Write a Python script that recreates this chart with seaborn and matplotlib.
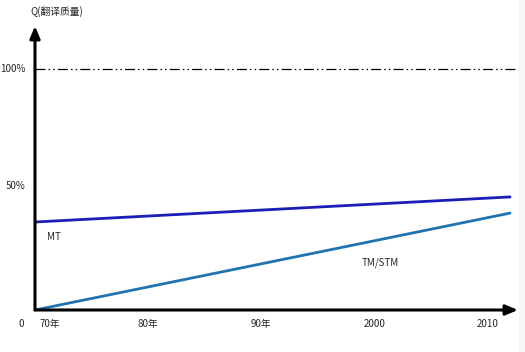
import matplotlib
matplotlib.use("Agg")
import matplotlib.pyplot as plt
import seaborn as sns
import pandas as pd

# data
years = [1970, 2012]
mt_quality = [36.5, 46.9]
tm_quality = [0.0, 40.2]
tick_years = [1971.3, 1980, 1990, 2000, 2010]
tick_labels = ["70年", "80年", "90年", "2000", "2010"]
y_ticks = [50, 100]
y_labels = ["50%", "100%"]

sns.set_theme(style="white")
plt.rcParams['font.family'] = ['Noto Sans CJK SC', 'DejaVu Sans']

df = pd.DataFrame({
    "year": years * 2,
    "quality": mt_quality + tm_quality,
    "series": ["MT"] * 2 + ["TM/STM"] * 2,
})

fig = plt.figure(figsize=(5.25, 3.52), dpi=100)
ax = fig.add_axes([35 / 525, 42 / 352, 483 / 525, 284 / 352])

sns.lineplot(data=df, x="year", y="quality", hue="series",
             palette={"MT": "#1c1cb8", "TM/STM": "#1f74b0"},
             linewidth=2.0, legend=False, ax=ax)

ax.set_xlim(1970, 2012.7)
ax.set_ylim(0, 117.8)
for s in ax.spines.values():
    s.set_visible(False)
ax.set_xticks([])
ax.set_yticks([])
ax.set_xlabel("")
ax.set_ylabel("")

# 100% reference line
ax.axhline(100, color="black", lw=0.9, xmax=1.0,
           linestyle=(0, (8, 2.5, 1.2, 2.5, 1.2, 2.5)))

# axes with arrows
arrow = dict(arrowstyle="-|>,head_width=0.25,head_length=0.6", color="black",
             lw=2.2, shrinkA=0, shrinkB=0)
ax.annotate("", xy=(1, 0), xytext=(0, 0), xycoords="axes fraction",
            arrowprops=arrow, annotation_clip=False)
ax.annotate("", xy=(0, 1), xytext=(0, 0), xycoords="axes fraction",
            arrowprops=arrow, annotation_clip=False)

fs = 7
for x, lab in zip(tick_years, tick_labels):
    ax.text(x, -5.8, lab, ha="center", va="center", fontsize=fs)
for y, lab in zip(y_ticks, y_labels):
    ax.text(-0.019, y + (1.5 if y == 50 else 0), lab, transform=ax.get_yaxis_transform(),
            ha="right", va="center", fontsize=fs)
ax.text(-0.022, -5.8, "0", transform=ax.get_yaxis_transform(),
        ha="right", va="center", fontsize=fs)
ax.text(-0.01, 1.05, "Q(翻译质量)", transform=ax.transAxes,
        ha="left", va="center", fontsize=fs)
ax.text(1971.1, 30.2, "MT", ha="left", va="center", fontsize=fs)
ax.text(1998.9, 19.5, "TM/STM", ha="left", va="center", fontsize=fs)

# light grey strip at right edge
fig.patches.append(plt.Rectangle((519 / 525, 0), 6 / 525, 1, transform=fig.transFigure,
                                 color="#f6f6f6", zorder=0))

fig.savefig("out.png", dpi=100)
